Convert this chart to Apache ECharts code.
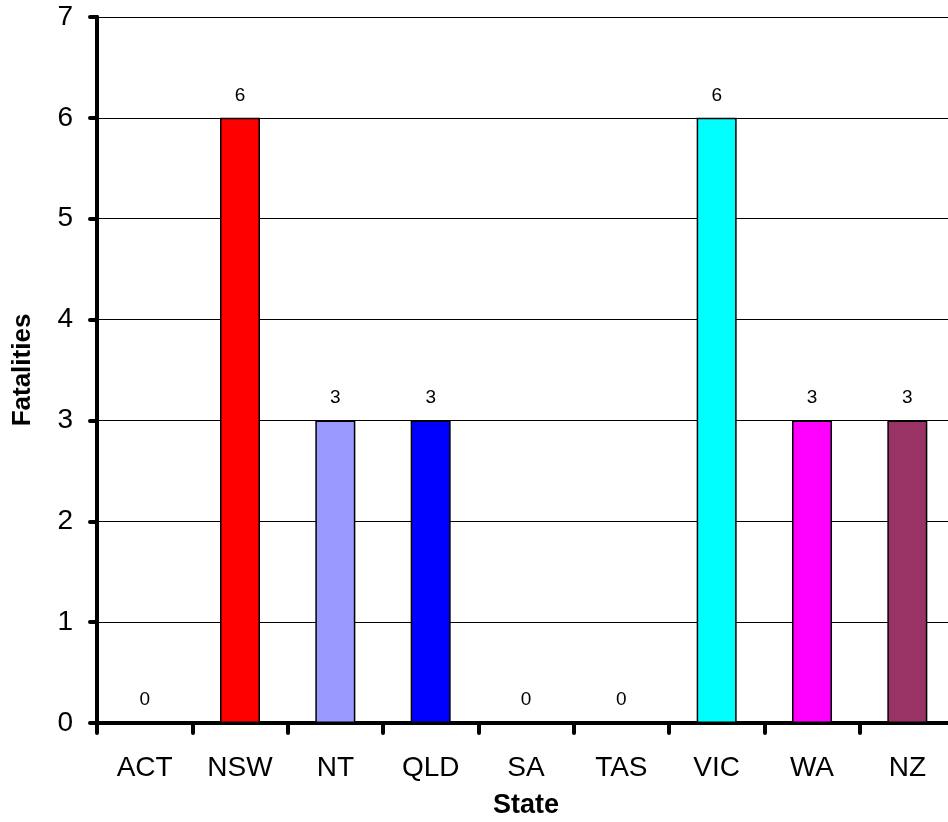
<!DOCTYPE html>
<html>
<head>
<meta charset="utf-8">
<script src="https://cdn.jsdelivr.net/npm/echarts@6/dist/echarts.min.js"></script>
<style>
  html, body { margin: 0; padding: 0; background: #fff; }
  #chart { width: 948px; height: 822px; }
</style>
</head>
<body>
<div id="chart"></div>
<script>
// Fatalities by state
const states = ['ACT', 'NSW', 'NT', 'QLD', 'SA', 'TAS', 'VIC', 'WA', 'NZ'];
const fatalities = [0, 6, 3, 3, 0, 0, 6, 3, 3];
const barColors = ['#FFFFFF', '#FF0000', '#9999FF', '#0000FF', '#FFFFFF', '#FFFFFF', '#00FFFF', '#FF00FF', '#993366'];
const yTicks = [0, 1, 2, 3, 4, 5, 6, 7];

const font = 'Arial, "Liberation Sans", sans-serif';
const chart = echarts.init(document.getElementById('chart'), null, { renderer: 'canvas' });

chart.setOption({
  animation: false,
  backgroundColor: '#ffffff',
  grid: { left: 97, right: -7, top: 17, bottom: 99, containLabel: false, outerBoundsMode: 'none' },
  xAxis: {
    type: 'category',
    data: states,
    name: 'State',
    nameLocation: 'middle',
    nameGap: 69,
    nameTextStyle: { fontFamily: font, fontSize: 27, fontWeight: 'bold', color: '#000' },
    axisLine: { lineStyle: { color: '#000', width: 4 } },
    axisTick: { show: true, alignWithLabel: false, length: 10, lineStyle: { color: '#000', width: 4, cap: 'round' } },
    axisLabel: { fontFamily: font, fontSize: 28, color: '#000', margin: 31 },
    splitLine: { show: false }
  },
  yAxis: {
    type: 'value',
    min: yTicks[0],
    max: yTicks[yTicks.length - 1],
    interval: 1,
    name: 'Fatalities',
    nameLocation: 'middle',
    nameRotate: 90,
    nameGap: 61,
    nameTextStyle: { fontFamily: font, fontSize: 26, fontWeight: 'bold', color: '#000' },
    axisLine: { show: true, lineStyle: { color: '#000', width: 4 } },
    axisTick: { show: true, length: 7, lineStyle: { color: '#000', width: 4, cap: 'round' } },
    axisLabel: { fontFamily: font, fontSize: 28, color: '#000', margin: 24 },
    splitLine: { show: true, lineStyle: { color: '#000', width: 1 } }
  },
  series: [{
    type: 'bar',
    data: fatalities.map((v, i) => ({ value: v, itemStyle: { color: barColors[i] } })),
    barWidth: 40,
    itemStyle: { borderColor: '#000', borderWidth: 1.5 },
    label: {
      show: true,
      position: 'top',
      distance: 13,
      fontFamily: font,
      fontSize: 19,
      color: '#000'
    }
  }]
});
</script>
</body>
</html>
